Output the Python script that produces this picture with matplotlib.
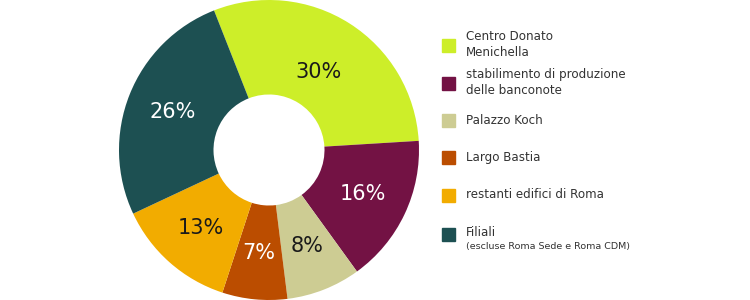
import numpy as np
import matplotlib.pyplot as plt
from matplotlib.patches import Rectangle

# shares of the building stock (%)
labels = ["Centro Donato\nMenichella", "stabilimento di produzione\ndelle banconote",
          "Palazzo Koch", "Largo Bastia", "restanti edifici di Roma", "Filiali"]
values = [30, 16, 8, 7, 13, 26]
colors = ["#cdee29", "#731244", "#cdcc93", "#bb4d00", "#f2ac00", "#1d5052"]
pct_colors = ["#1a1a1a", "white", "#1a1a1a", "white", "#1a1a1a", "white"]
note = "(escluse Roma Sede e Roma CDM)"

W, H = 750, 300
fig = plt.figure(figsize=(W / 100, H / 100), dpi=100)

# donut
ax = fig.add_axes([119 / W, 0, 300 / W, 1])
wedges, _ = ax.pie(values, colors=colors, startangle=111.5, counterclock=False,
                   radius=1.0, wedgeprops=dict(width=0.63, linewidth=0))
ax.set_xlim(-1, 1)
ax.set_ylim(-1, 1)
ax.set_aspect("equal")
ax.axis("off")

for w, v, c in zip(wedges, values, pct_colors):
    mid = np.deg2rad((w.theta1 + w.theta2) / 2)
    r = 0.62 if v == max(values) else 0.69
    ax.text(r * np.cos(mid), r * np.sin(mid), f"{v}%", ha="center", va="center",
            fontsize=15, color=c, family="DejaVu Sans")

# legend, drawn by hand
ys = [45, 83, 120, 157, 195, 234]
for lab, col, y in zip(labels, colors, ys):
    fig.patches.append(Rectangle((442 / W, 1 - (y + 6.5) / H), 13 / W, 13 / H,
                                 transform=fig.transFigure, color=col))
    if "\n" in lab:
        fig.text(466 / W, 1 - y / H, lab, ha="left", va="center", fontsize=8.6,
                 color="#333333", linespacing=1.3)
    else:
        ty = y if lab != "Filiali" else y - 2
        fig.text(466 / W, 1 - ty / H, lab, ha="left", va="center", fontsize=8.6,
                 color="#333333")
fig.text(466 / W, 1 - 246 / H, note, ha="left", va="center", fontsize=6.8,
         color="#333333")

fig.savefig("out.png", dpi=100)
